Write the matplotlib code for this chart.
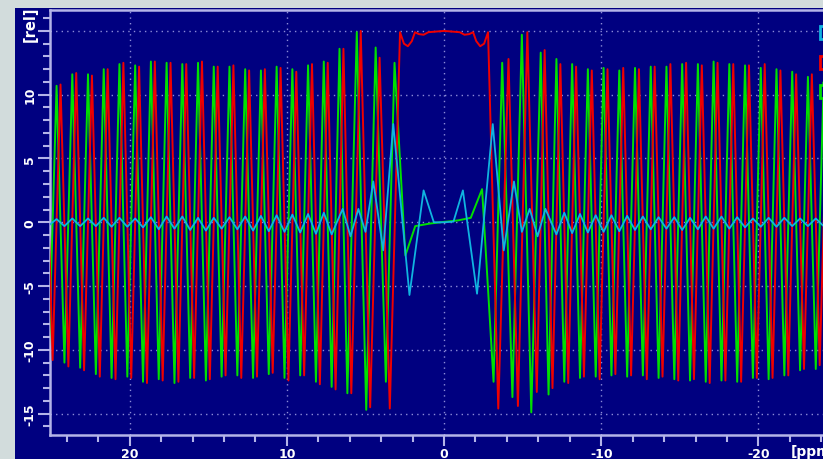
import numpy as np
import matplotlib
matplotlib.use("Agg")
import matplotlib.pyplot as plt
from matplotlib.patches import Rectangle
from matplotlib.ticker import MultipleLocator, FixedLocator

# ---------------- data ----------------
red_ppm = [25.15, 24.9, 24.4, 23.9, 23.4, 22.9, 22.4, 21.9, 21.4, 20.9, 20.4, 19.9, 19.4,
           18.9, 18.4, 17.9, 17.4, 16.9, 16.4, 15.9, 15.4, 14.9, 14.4, 13.9, 13.4, 12.9,
           12.4, 11.9, 11.4, 10.9, 10.4, 9.9, 9.4, 8.9, 8.4, 7.9, 7.4, 6.9, 6.4, 5.9, 5.3,
           4.7, 4.1, 3.45, 2.8, 2.55, 2.3, 2.05, 1.85, 1.6, 1.3, 1.0, 0.0, -1.0, -1.3, -1.6,
           -1.85, -2.05, -2.3, -2.55, -2.8, -3.45, -4.1, -4.7, -5.3, -5.9, -6.4, -6.9, -7.4,
           -7.9, -8.4, -8.9, -9.4, -9.9, -10.4, -10.9, -11.4, -11.9, -12.4, -12.9, -13.4,
           -13.9, -14.4, -14.9, -15.4, -15.9, -16.4, -16.9, -17.4, -17.9, -18.4, -18.9,
           -19.4, -19.9, -20.4, -20.9, -21.4, -21.9, -22.4, -22.9, -23.4, -23.9, -24.4,
           -24.9, -25.15]
red_val = [0.0, -10.8, 10.8, -11.3, 11.7, -11.6, 11.5, -12.1, 12.0, -12.3, 12.5, -12.2, 12.2,
           -12.6, 12.6, -12.4, 12.5, -12.5, 12.4, -12.2, 12.6, -12.3, 12.2, -12.0, 12.3, -12.2,
           11.9, -12.1, 12.0, -11.8, 12.1, -12.4, 11.8, -12.0, 12.4, -12.7, 12.5, -13.1, 13.6,
           -13.4, 15.0, -14.5, 12.9, -14.6, 14.9, 14.0, 13.8, 14.2, 14.9, 14.75, 14.7, 14.9,
           15.0, 14.9, 14.7, 14.75, 14.9, 14.2, 13.8, 14.0, 14.9, -14.6, 12.8, -14.4, 14.9,
           -13.3, 13.5, -13.0, 12.4, -12.6, 12.2, -12.1, 11.9, -12.3, 12.0, -11.9, 12.1,
           -12.0, 12.0, -12.3, 12.2, -12.1, 12.4, -12.4, 12.5, -12.3, 12.3, -12.6, 12.5,
           -12.4, 12.4, -12.5, 12.3, -12.2, 12.4, -12.2, 11.9, -12.0, 11.6, -11.5, 11.6,
           -11.2, 10.9, -10.8, 0.0]

green_ppm = [25.15, 24.65, 24.15, 23.65, 23.15, 22.65, 22.15, 21.65, 21.15, 20.65, 20.15,
             19.65, 19.15, 18.65, 18.15, 17.65, 17.15, 16.65, 16.15, 15.65, 15.15, 14.65,
             14.15, 13.65, 13.15, 12.65, 12.15, 11.65, 11.15, 10.65, 10.15, 9.65, 9.15, 8.65,
             8.15, 7.65, 7.15, 6.65, 6.15, 5.55, 4.95, 4.35, 3.7, 3.15, 2.46, 1.83, 0.9, 0.0,
             -0.9, -1.7, -2.42, -3.15, -3.7, -4.35, -4.95, -5.55, -6.15, -6.65, -7.15, -7.65,
             -8.15, -8.65, -9.15, -9.65, -10.15, -10.65, -11.15, -11.65, -12.15, -12.65,
             -13.15, -13.65, -14.15, -14.65, -15.15, -15.65, -16.15, -16.65, -17.15, -17.65,
             -18.15, -18.65, -19.15, -19.65, -20.15, -20.65, -21.15, -21.65, -22.15, -22.65,
             -23.15, -23.65, -24.15, -24.65, -25.15]
green_val = [-10.6, 10.7, -11.0, 11.6, -11.4, 11.6, -11.9, 12.0, -12.2, 12.4, -12.1,
             12.3, -12.5, 12.6, -12.3, 12.5, -12.6, 12.4, -12.2, 12.5, -12.4, 12.2,
             -12.1, 12.2, -12.0, 12.0, -12.2, 11.9, -11.9, 12.2, -12.2, 12.0, -12.0, 12.3,
             -12.5, 12.6, -12.9, 13.6, -13.4, 14.9, -14.7, 13.7, -12.5, 12.5, -2.6, -0.3, -0.1,
             0.03, 0.15, 0.35, 2.6, -12.5, 12.5, -13.7, 14.7, -14.9, 13.3, -13.5, 12.8, -12.5,
             12.4, -12.2, 12.0, -12.1, 12.1, -12.0, 11.9, -12.1, 12.1, -12.0,
             12.2, -12.2, 12.2, -12.3, 12.4, -12.4, 12.4, -12.5, 12.6, -12.4,
             12.4, -12.5, 12.3, -12.2, 12.1, -12.3, 12.0, -12.0, 11.8, -11.6,
             11.4, -11.5, 11.0, -10.8, 10.6]

cyan_ppm = [25.15, 24.65, 24.15, 23.65, 23.15, 22.65, 22.15, 21.65, 21.15, 20.65, 20.15,
            19.65, 19.15, 18.65, 18.15, 17.65, 17.15, 16.65, 16.15, 15.65, 15.15, 14.65,
            14.15, 13.65, 13.15, 12.65, 12.15, 11.65, 11.15, 10.65, 10.15, 9.65, 9.15, 8.65,
            8.15, 7.65, 7.15, 6.45, 5.95, 5.45, 5.0, 4.5, 3.87, 3.23, 2.2, 1.3, 0.65, 0.0,
            -0.6, -1.2, -2.1, -3.1, -3.8, -4.45, -4.95, -5.45, -5.95, -6.45, -7.15, -7.65,
            -8.15, -8.65, -9.15, -9.65, -10.15, -10.65, -11.15, -11.65, -12.15, -12.65,
            -13.15, -13.65, -14.15, -14.65, -15.15, -15.65, -16.15, -16.65, -17.15, -17.65,
            -18.15, -18.65, -19.15, -19.65, -20.15, -20.65, -21.15, -21.65, -22.15, -22.65,
            -23.15, -23.65, -24.15, -24.65, -25.15]
cyan_val = [-0.25, 0.25, -0.3, 0.3, -0.3, 0.3, -0.3, 0.35, -0.35, 0.35, -0.35,
            0.3, -0.4, 0.4, -0.55, 0.45, -0.5, 0.45, -0.6, 0.35, -0.65, 0.35,
            -0.5, 0.4, -0.55, 0.45, -0.65, 0.5, -0.7, 0.55, -0.75, 0.6, -0.8, 0.65,
            -0.9, 0.75, -0.95, 1.05, -1.1, 1.05, -0.75, 3.2, -2.2, 7.7, -5.7, 2.5, 0.0, 0.0,
            0.05, 2.5, -5.6, 7.7, -2.2, 3.2, -0.75, 1.05, -1.1, 1.05, -0.95, 0.75,
            -0.85, 0.65, -0.8, 0.55, -0.75, 0.55, -0.7, 0.5, -0.6, 0.45,
            -0.55, 0.4, -0.5, 0.4, -0.6, 0.35, -0.55, 0.45, -0.5, 0.45,
            -0.5, 0.4, -0.4, 0.3, -0.35, 0.35, -0.35, 0.35, -0.3, 0.3,
            -0.3, 0.3, -0.3, 0.25, -0.25]

x_major = [20, 10, 0, -10, -20]
x_labels = ["20", "10", "0", "-10", "-20"]
y_major = [15, 10, 5, 0, -5, -10, -15]
y_labels = ["", "10", "5", "0", "-5", "-10", "-15"]
x_unit = "[ppm]"
y_unit = "[rel]"

# ---------------- styling ----------------
W, H = 823, 460
NAVY = "#000080"
OUTER = "#d2dcdc"
FRAME = "#b4b4e8"
GRID = "#8c8cd8"
RED = "#f00000"
GREEN = "#00e000"
CYAN = "#10b4e0"

fig = plt.figure(figsize=(W / 100, H / 100), dpi=100, facecolor=OUTER)
fig.patches.append(Rectangle((15 / W, 0), 1, (H - 9) / H, transform=fig.transFigure,
                             facecolor=NAVY, edgecolor="none", zorder=-10))

ax_l, ax_r, ax_t, ax_b = 49.5, 837.0, 11.0, 435.7
ax = fig.add_axes([ax_l / W, (H - ax_b) / H, (ax_r - ax_l) / W, (ax_b - ax_t) / H])
ax.set_zorder(1)
ax.set_facecolor(NAVY)

ax.plot(green_ppm, green_val, color=GREEN, lw=1.4, zorder=3)
ax.plot(red_ppm, red_val, color=RED, lw=1.4, zorder=4)
ax.plot(cyan_ppm, cyan_val, color=CYAN, lw=1.3, zorder=5)

ax.set_xlim(25.1, -25.0)
ax.set_ylim(-16.65, 16.64)

ax.xaxis.set_major_locator(FixedLocator(x_major))
ax.set_xticklabels(x_labels)
ax.xaxis.set_minor_locator(MultipleLocator(2))
ax.yaxis.set_major_locator(FixedLocator(y_major))
ax.set_yticklabels(y_labels)
ax.yaxis.set_minor_locator(MultipleLocator(1))

ax.grid(True, which="major", color=GRID, linestyle=(0, (1, 3)), linewidth=1.0, zorder=1)
ax.set_axisbelow(True)

ax.spines["right"].set_visible(False)
for s in ["left", "bottom", "top"]:
    ax.spines[s].set_color(FRAME)
    ax.spines[s].set_linewidth(1.8)

ax.tick_params(axis="both", which="both", direction="out", colors=FRAME,
               labelcolor="white", width=1.5)
ax.tick_params(axis="x", which="major", length=8, pad=0.5)
ax.tick_params(axis="x", which="minor", length=5)
ax.tick_params(axis="y", which="major", length=9, pad=0.5)
ax.tick_params(axis="y", which="minor", length=5)

for lab in ax.get_xticklabels():
    lab.set_fontweight("bold")
    lab.set_fontsize(9)
for lab in ax.get_yticklabels():
    lab.set_fontweight("bold")
    lab.set_fontsize(9)
    lab.set_rotation(90)
    lab.set_va("center")

fig.text(30 / W, 1 - 24.5 / H, y_unit, rotation=90, color="white", fontsize=10.5,
         fontweight="bold", ha="center", va="center", zorder=5)
fig.text(791 / W, 1 - 452 / H, x_unit, color="white", fontsize=10,
         fontweight="bold", ha="left", va="center", zorder=5)

# legend boxes (cut off at the right edge)
for yc, col in [(33.5, CYAN), (63, RED), (92.5, GREEN)]:
    fig.patches.append(Rectangle((820 / W, 1 - (yc + 6.5) / H), 20 / W, 13 / H,
                                 transform=fig.transFigure, facecolor=NAVY,
                                 edgecolor=col, linewidth=2, zorder=10))

fig.savefig("out.png", dpi=100, facecolor=OUTER)
